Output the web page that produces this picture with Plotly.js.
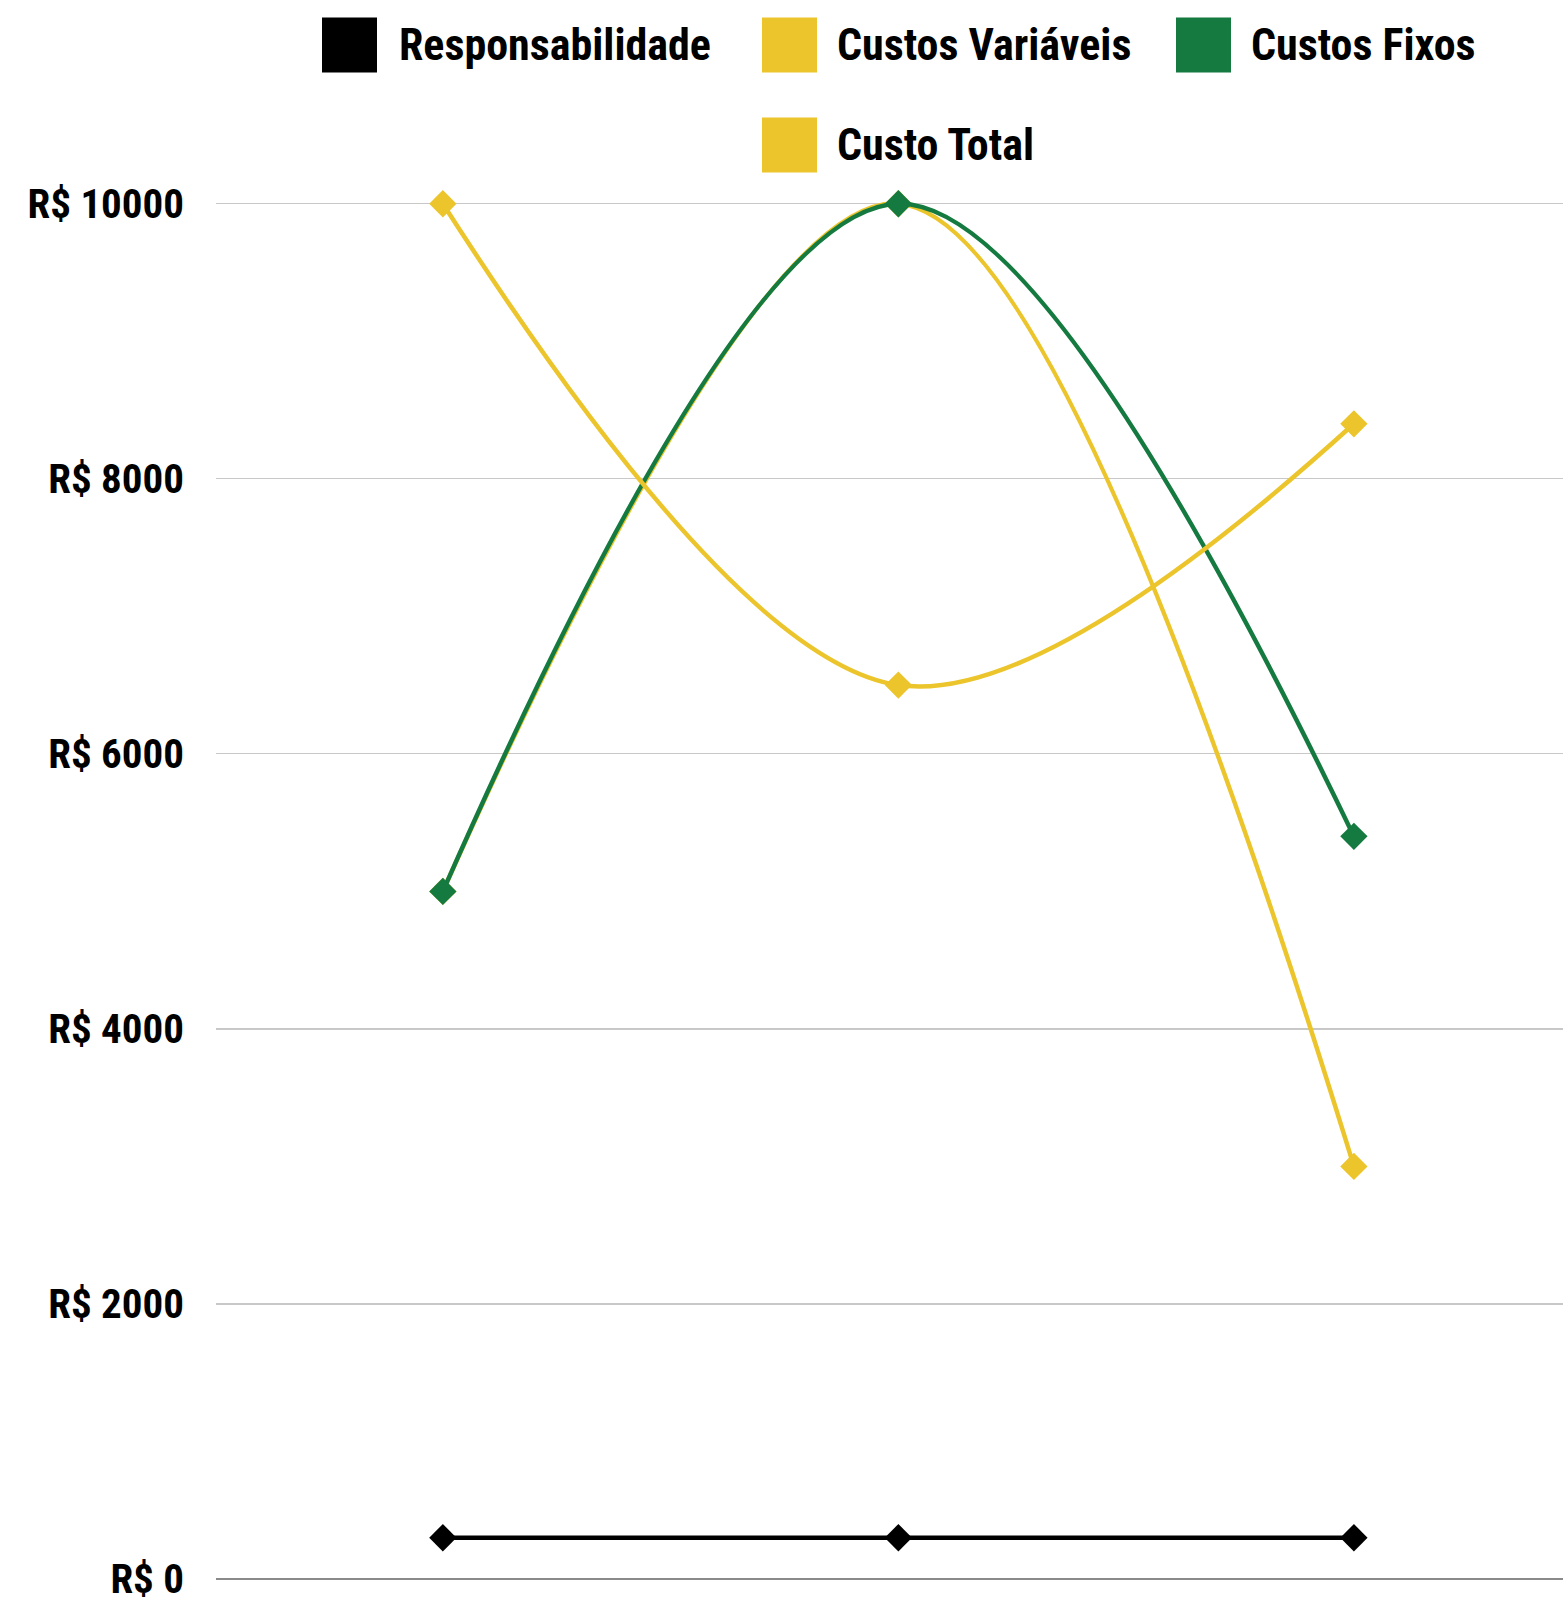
<!DOCTYPE html>
<html>
<head>
<meta charset="utf-8">
<script src="https://cdn.plot.ly/plotly-3.0.1.min.js"></script>
<style>html,body{margin:0;padding:0;background:#fff;}#chart{width:1563px;height:1599px;}</style>
</head>
<body>
<div id="chart"></div>
<script>
// ---- data ----
const categories = ['1', '2', '3'];
const seriesNames = ['Responsabilidade', 'Custos Variáveis', 'Custos Fixos', 'Custo Total'];
const responsabilidade = [300, 300, 300];
const custosVariaveis = [5000, 10000, 3000];
const custosFixos = [5000, 10000, 5400];
const custoTotal = [10000, 6500, 8400];
const yTicks = [0, 2000, 4000, 6000, 8000, 10000];

// ---- style ----
const colors = ['#000000', '#EBC52B', '#157A40', '#EBC52B'];
const FONT = '"Roboto Condensed", "Liberation Sans Narrow", "DejaVu Sans Condensed", sans-serif';
const W = 1563, H = 1599;
const M = {l: 216, r: 0, t: 201, b: 20};
const plotW = W - M.l - M.r, plotH = H - M.t - M.b;
const px = x => (x - M.l) / plotW;
const py = y => (H - M.b - y) / plotH;

const values = [responsabilidade, custosVariaveis, custosFixos, custoTotal];
const traces = values.map((v, i) => ({
  type: 'scatter',
  mode: 'lines+markers',
  name: seriesNames[i],
  x: categories,
  y: v,
  line: {color: colors[i], width: 4.5, shape: i === 0 ? 'linear' : 'spline', smoothing: 1},
  marker: {symbol: 'diamond', size: 21, color: colors[i]},
  cliponaxis: false,
  showlegend: false
}));

// custom legend: big square swatches
const legendItems = [
  {sx: 322, tx: 397, cy: 45},
  {sx: 762, tx: 835, cy: 45},
  {sx: 1176, tx: 1249, cy: 45},
  {sx: 762, tx: 835, cy: 145}
];
const shapes = legendItems.map((it, i) => ({
  type: 'rect', xref: 'paper', yref: 'paper',
  x0: px(it.sx), x1: px(it.sx + 55), y0: py(it.cy + 27.5), y1: py(it.cy - 27.5),
  fillcolor: colors[i], line: {width: 0}
}));
const annotations = legendItems.map((it, i) => ({
  xref: 'paper', yref: 'paper', x: px(it.tx), y: py(it.cy),
  xanchor: 'left', yanchor: 'middle', showarrow: false,
  text: seriesNames[i],
  font: {family: FONT, size: 44, color: '#000', weight: 700}
}));

const layout = {
  width: W, height: H,
  margin: M,
  paper_bgcolor: '#fff', plot_bgcolor: '#fff',
  showlegend: false,
  xaxis: {
    type: 'category', range: [-0.498, 2.459],
    showticklabels: false, showgrid: false, zeroline: false, showline: false, ticks: ''
  },
  yaxis: {
    range: [0, 10020], tickvals: yTicks, ticktext: yTicks.map(v => 'R$ ' + v),
    showgrid: true, gridcolor: '#c8c8c8', gridwidth: 1.2,
    zeroline: true, zerolinecolor: '#8a8a8a', zerolinewidth: 1.5,
    showline: false, ticks: '', ticklabelstandoff: 31, ticklabeloverflow: 'allow',
    tickfont: {family: FONT, size: 41, color: '#000', weight: 700}
  },
  shapes: shapes,
  annotations: annotations
};

Plotly.newPlot('chart', traces, layout, {displayModeBar: false, staticPlot: true});
</script>
</body>
</html>
